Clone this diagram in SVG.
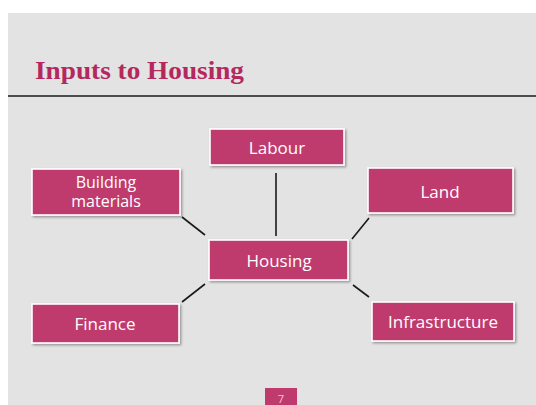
<svg xmlns="http://www.w3.org/2000/svg" width="536" height="405" viewBox="0 0 536 405">
<defs>
<style>
.box{fill:#bf3b6e;stroke:#ffffff;stroke-width:1.6;filter:url(#sh)}
.lbl{fill:#ffffff;font-family:"Open Sans","Noto Sans",sans-serif;font-size:17px;text-anchor:middle}
.sm{font-size:16px}
.con{stroke:#1a1a1a;stroke-width:1.6;fill:none}
</style>
<filter id="sh" x="-10%" y="-20%" width="130%" height="150%">
<feDropShadow dx="1.5" dy="1.5" stdDeviation="1" flood-color="#000" flood-opacity="0.35"/>
</filter>
</defs>
<rect x="0" y="0" width="536" height="405" fill="#ffffff"/>
<rect x="8" y="13" width="528" height="392" fill="#e3e3e3"/>
<line x1="8" y1="96" x2="536" y2="96" stroke="#1a1a1a" stroke-width="1.5"/>
<text x="35" y="79" font-family="'Liberation Serif',serif" font-weight="bold" font-size="26" fill="#b5285e" textLength="209" lengthAdjust="spacingAndGlyphs">Inputs to Housing</text>
<g id="connectors">
<line class="con" x1="276" y1="173" x2="276" y2="236"/>
<line class="con" x1="182" y1="217" x2="205" y2="235"/>
<line class="con" x1="369" y1="218" x2="352" y2="239"/>
<line class="con" x1="182" y1="302" x2="205" y2="284"/>
<line class="con" x1="353" y1="285" x2="369" y2="297"/>
</g>
<g id="labour"><rect class="box" x="210" y="129" width="134" height="36"/><text class="lbl" x="277" y="154">Labour</text></g>
<g id="housing"><rect class="box" x="209" y="240" width="139" height="40"/><text class="lbl" x="279" y="267">Housing</text></g>
<g id="building"><rect class="box" x="32" y="169" width="148" height="46"/><text class="lbl sm" x="106" y="188">Building</text><text class="lbl sm" x="106" y="207">materials</text></g>
<g id="land"><rect class="box" x="368" y="168" width="145" height="45"/><text class="lbl" x="440" y="198">Land</text></g>
<g id="finance"><rect class="box" x="32" y="304" width="147" height="39"/><text class="lbl" x="105" y="330">Finance</text></g>
<g id="infrastructure"><rect class="box" x="372" y="302" width="142" height="39"/><text class="lbl" x="443" y="328">Infrastructure</text></g>
<g id="page"><rect x="265" y="388" width="32" height="17" fill="#bf3b6e"/><text x="281" y="403" font-family="'Open Sans',sans-serif" font-size="11" fill="#f3c6d6" text-anchor="middle">7</text></g>
</svg>
